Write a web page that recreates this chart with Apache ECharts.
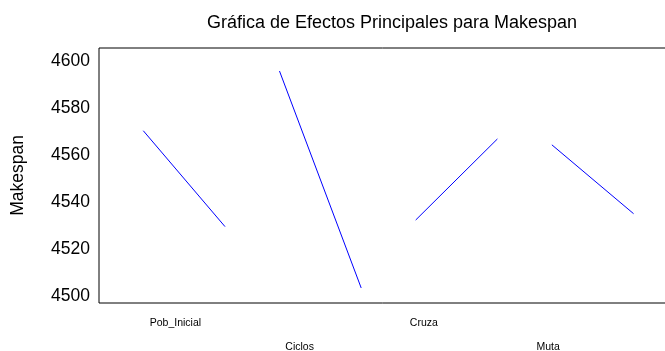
<!DOCTYPE html>
<html>
<head>
<meta charset="utf-8">
<script src="https://cdn.jsdelivr.net/npm/echarts@6/dist/echarts.min.js"></script>
<style>
html,body{margin:0;padding:0;background:#fff;}
#c{width:665px;height:351px;}
</style>
</head>
<body>
<div id="c"></div>
<script>
// ---- data ----
var titleText = 'Gráfica de Efectos Principales para Makespan';
var yName = 'Makespan';
var factors = ['Pob_Inicial', 'Ciclos', 'Cruza', 'Muta'];
var meanLevel1 = [4570.6, 4596.0, 4532.6, 4564.6];
var meanLevel2 = [4529.8, 4503.7, 4567.1, 4535.3];
var yTicks = [4500, 4520, 4540, 4560, 4580, 4600];

// ---- layout (x units: factor i, level j at 5*i + 3*j) ----
var FACTOR_STEP = 5, LEVEL_STEP = 3;
var labelStart = 1.18, labelStep = 4.56;

var series = factors.map(function (f, i) {
  return {
    type: 'line',
    name: f,
    symbol: 'none',
    silent: true,
    lineStyle: { color: '#0000ff', width: 1 },
    data: [
      [i * FACTOR_STEP, meanLevel1[i]],
      [i * FACTOR_STEP + LEVEL_STEP, meanLevel2[i]]
    ]
  };
});

var labelPos = factors.map(function (f, i) { return labelStart + i * labelStep; });
function nameAt(v) {
  for (var i = 0; i < labelPos.length; i++) {
    if (Math.abs(labelPos[i] - v) < 0.01) return factors[i];
  }
  return '';
}

var xMin = -1.626, xMax = 19.30;
var font = 'Liberation Sans, Arial, sans-serif';

var chart = echarts.init(document.getElementById('c'), null, { renderer: 'canvas' });
chart.setOption({
  animation: false,
  backgroundColor: '#fff',
  title: {
    text: titleText,
    left: 387,
    textAlign: 'center',
    top: 9,
    textStyle: { fontFamily: font, fontSize: 18, fontWeight: 'normal', color: '#000' }
  },
  grid: {
    left: 99, top: 48, width: 570, height: 255,
    outerBoundsMode: 'none', containLabel: false,
    show: true, borderColor: '#000', borderWidth: 1, backgroundColor: 'transparent'
  },
  xAxis: [{
    type: 'value', min: xMin, max: xMax,
    axisLine: { show: false }, axisTick: { show: false }, splitLine: { show: false },
    axisLabel: {
      customValues: labelPos.filter(function (v, i) { return i % 2 === 0; }),
      formatter: nameAt, margin: 15,
      fontFamily: font, fontSize: 10.5, color: '#000'
    }
  }, {
    type: 'value', min: xMin, max: xMax, position: 'bottom', offset: 24,
    axisLine: { show: false }, axisTick: { show: false }, splitLine: { show: false },
    axisLabel: {
      customValues: labelPos.filter(function (v, i) { return i % 2 === 1; }),
      formatter: nameAt, margin: 15,
      fontFamily: font, fontSize: 10.5, color: '#000'
    }
  }],
  yAxis: {
    type: 'value', min: 4497.3, max: 4605.8,
    name: yName, nameLocation: 'middle', nameRotate: 90, nameGap: 72,
    nameTextStyle: { fontFamily: font, fontSize: 17.5, color: '#000' },
    axisLine: { show: false }, axisTick: { show: false }, splitLine: { show: false },
    axisLabel: {
      customValues: yTicks, margin: 9,
      formatter: function (v) { return String(v); },
      fontFamily: font, fontSize: 17.5, color: '#000'
    }
  },
  series: series
});
</script>
</body>
</html>
